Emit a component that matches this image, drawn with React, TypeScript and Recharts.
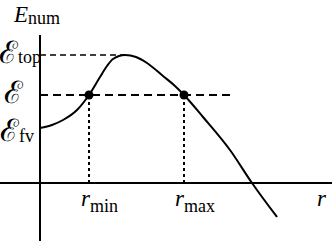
import React from 'react';
import {ComposedChart, Line, ReferenceDot, ReferenceLine, XAxis, YAxis} from 'recharts';

// curve E_num(r)
const rValues = [0, 1.2, 2.3, 3.7, 4.9, 6.0, 6.7, 7.3, 8.5, 9.6, 10.7, 12.3, 13.5, 14.4, 16.3, 19.0, 21.2, 23.7];
const eValues = [5.5, 5.8, 6.3, 7.3, 8.8, 10.6, 11.7, 12.4, 12.8, 12.6, 12.0, 10.7, 9.7, 8.8, 6.6, 3.3, 0, -3.4];

const eTop = 12.8;
const eLevel = 8.8;
const rMin = 4.9;
const rMax = 14.4;
const rTopEnd = 8.5;
const rLevelEnd = 19.2;
const yAxisTop = 14.8;

const xDomain = [-4, 29.2];
const yDomain = [-5.8, 18.3];

const curve = rValues.map((r, i) => ({r, E: eValues[i]}));

const serif = '"Liberation Serif", "DejaVu Serif", serif';

const App: React.FC = () => {
    return (
        <div style={{position: 'absolute', left: 0, top: 0, width: 332, height: 241, background: '#fff'}}>
            <ComposedChart width={332} height={241} data={curve} margin={{top: 0, right: 0, bottom: 0, left: 0}}>
                <XAxis type="number" dataKey="r" domain={xDomain} hide allowDataOverflow/>
                <YAxis type="number" domain={yDomain} hide allowDataOverflow/>
                <ReferenceLine y={0} stroke="#000" strokeWidth={2}/>
                <ReferenceLine segment={[{x: 0, y: yDomain[0]}, {x: 0, y: yAxisTop}]} stroke="#000" strokeWidth={2}/>
                <ReferenceLine segment={[{x: 0, y: eTop}, {x: rTopEnd, y: eTop}]} stroke="#000" strokeWidth={1.5} strokeDasharray="6 4"/>
                <ReferenceLine segment={[{x: 0, y: eLevel}, {x: rLevelEnd, y: eLevel}]} stroke="#000" strokeWidth={2} strokeDasharray="8 5"/>
                <ReferenceLine segment={[{x: rMin, y: 0}, {x: rMin, y: eLevel}]} stroke="#000" strokeWidth={2} strokeDasharray="3 3"/>
                <ReferenceLine segment={[{x: rMax, y: 0}, {x: rMax, y: eLevel}]} stroke="#000" strokeWidth={2} strokeDasharray="3 3"/>
                <Line type="monotone" dataKey="E" stroke="#000" strokeWidth={2} dot={false} activeDot={false}
                      isAnimationActive={false}/>
                <ReferenceDot x={rMin} y={eLevel} r={4.5} fill="#000" stroke="none"/>
                <ReferenceDot x={rMax} y={eLevel} r={4.5} fill="#000" stroke="none"/>
            </ComposedChart>
            <svg width={332} height={241} style={{position: 'absolute', left: 0, top: 0, pointerEvents: 'none'}}
                 fontFamily={serif} fill="#000">
                <text x={14} y={22} fontSize={23} fontStyle="italic">E<tspan fontSize={18} fontStyle="normal" dy={2}>num</tspan></text>
                <text x={-1} y={63} fontSize={31}>ℰ<tspan fontSize={18} dy={0}>top</tspan></text>
                <text x={4} y={103} fontSize={31}>ℰ</text>
                <text x={0} y={141} fontSize={31}>ℰ<tspan fontSize={18} dy={1}>fv</tspan></text>
                <text x={81} y={206} fontSize={23} fontStyle="italic">r<tspan fontSize={18} fontStyle="normal" dy={6}>min</tspan></text>
                <text x={175} y={206} fontSize={23} fontStyle="italic">r<tspan fontSize={18} fontStyle="normal" dy={6}>max</tspan></text>
                <text x={317} y={206} fontSize={23} fontStyle="italic">r</text>
            </svg>
        </div>
    );
};

export default App;
